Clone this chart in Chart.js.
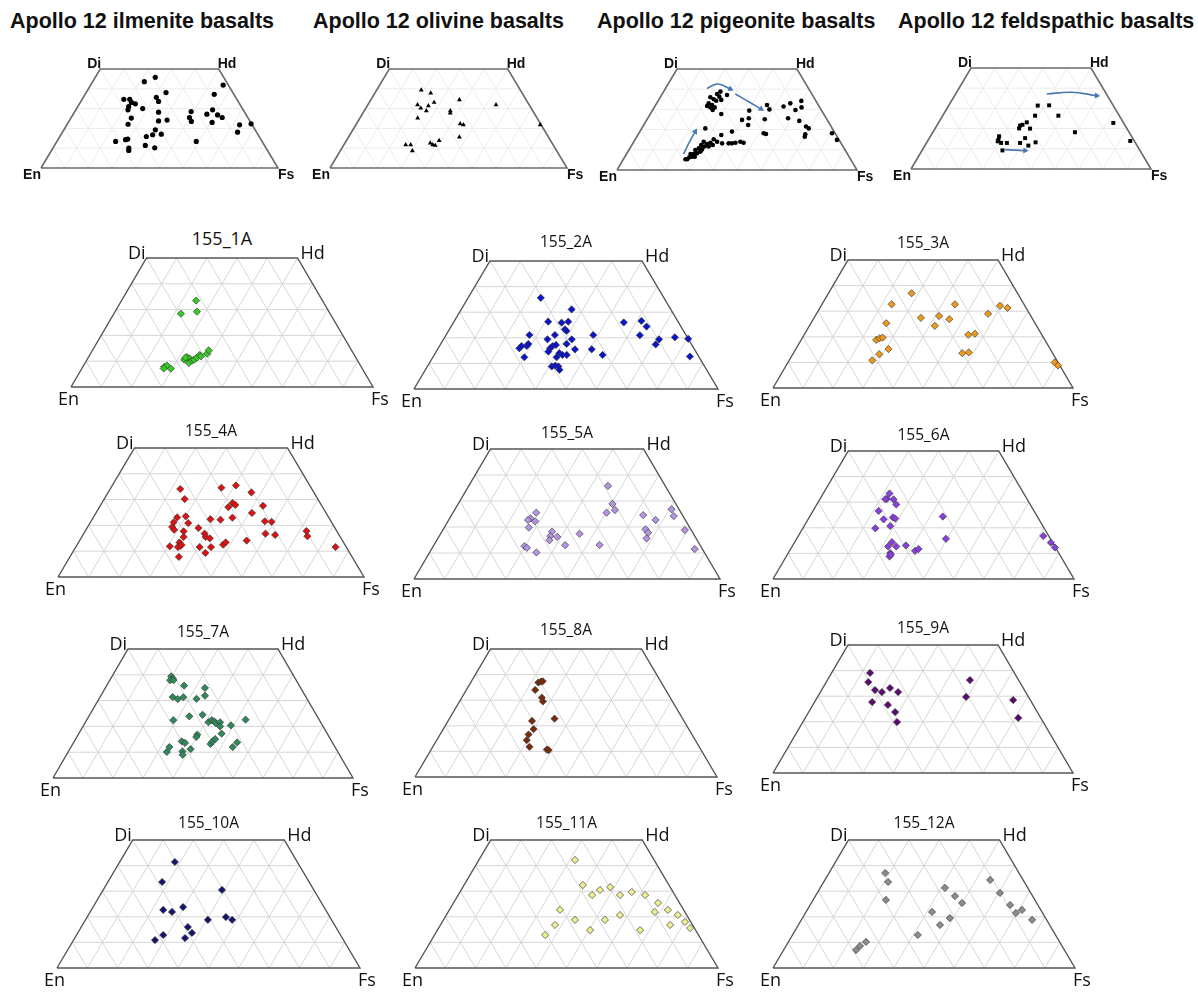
<!DOCTYPE html>
<html>
<head>
<meta charset="utf-8">
<title>Pyroxene quadrilaterals</title>
<script src="https://cdn.jsdelivr.net/npm/chart.js"></script>
<style>
  body { margin: 0; background: #fff; }
  #page { position: relative; width: 1198px; height: 992px; overflow: hidden; }
  canvas { position: absolute; }
  .lbl { position: absolute; line-height: 1; white-space: nowrap; color: #111; }
  .big { font-family: "Liberation Sans", Arial, sans-serif; font-weight: bold; font-size: 21.5px; }
  .vb { font-family: "Liberation Sans", Arial, sans-serif; font-weight: bold; font-size: 14px; }
  .vs { font-family: "Open Sans", sans-serif; font-size: 18px; }
  .ts { font-family: "Open Sans", sans-serif; font-size: 15.5px; }
</style>
</head>
<body>
<div id="page"></div>
<script>
// every point is [Wo, Fs] in mol %, En = 100 - Wo - Fs

let ilmenite = [[43.6,21.8],[45.8,25.3],[41.9,55.9],[38.1,33.7],[35.7,30.8],[33.6,32.8],[34.7,17.6],[34.7,20.1],
  [33.1,21.6],[32.4,23.6],[31.0,21.5],[29.4,22.0],[30.0,27.9],[28.2,35.5],[25.2,25.5],[23.8,37.7],[24.2,41.1],
  [22.1,25.7],[37.2,54.5],[28.5,49.1],[25.5,49.9],[23.5,51.7],[27.2,56.4],[29.4,57.7],[26.8,61.1],[25.5,63.7],
  [23.0,60.7],[21.8,72.9],[22.3,77.5],[18.1,73.9],[13.4,58.8],[19.3,38.6],[17.1,42.2],[16.8,38.7],[15.9,36.5],
  [13.4,24.8],[14.3,28.5],[14.6,29.3],[10.1,32.0],[8.9,32.6],[11.4,38.3],[10.2,42.9]];

let olivine = [[39.4,18.8],[37.8,23.6],[34.4,37.4],[31.9,54.1],[31.9,21.0],[30.2,23.2],[28.9,26.2],[31.4,25.8],
  [33.1,27.4],[28.9,36.3],[27.7,36.9],[25.2,24.4],[22.3,43.8],[21.8,45.4],[21.8,77.8],[15.6,46.8],[11.7,26.1],
  [11.7,28.2],[8.7,30.4],[12.6,36.0],[11.7,37.5],[11.4,38.7],[13.9,39.1]];

let pigeonite = [[38.8,23.7],[37.6,22.9],[36.3,24.5],[37.1,27.3],[36.0,20.9],[35.0,22.8],[34.3,24.2],[33.0,21.7],
  [32.2,23.5],[31.7,21.7],[31.0,23.4],[31.0,25.2],[29.7,25.0],[34.7,26.1],[27.7,29.6],[29.4,40.4],[32.2,46.4],
  [30.0,48.5],[31.4,53.7],[33.0,55.7],[34.2,59.7],[29.7,59.5],[31.0,61.4],[25.6,58.5],[24.3,63.8],[21.5,68.0],
  [20.6,69.6],[17.7,69.6],[16.5,70.0],[18.2,80.5],[14.9,84.2],[24.8,39.7],[22.3,43.5],[25.1,49.0],[18.2,52.0],
  [17.8,53.2],[25.6,42.1],[20.6,26.5],[17.3,34.8],[19.0,38.4],[14.0,44.4],[13.5,46.0],[13.5,42.6],[13.2,39.9],
  [13.2,41.3],[13.2,37.2],[14.0,34.7],[15.2,32.7],[13.5,32.2],[12.9,31.1],[14.0,29.1],[12.4,28.9],[11.6,30.7],
  [10.7,28.7],[9.9,27.7],[8.3,29.2],[7.9,28.0],[6.6,28.0],[6.3,27.0],[5.3,26.6],[5.3,25.9],[6.6,29.1],[7.9,26.7],
  [9.1,30.2],[10.2,30.3],[11.6,32.4],[12.4,33.7]];

let feldspathic = [[31.4,37.1],[31.5,41.8],[26.4,38.5],[26.4,48.2],[23.1,36.7],[21.5,34.7],[21.9,35.5],[20.1,35.0],
  [20.0,39.6],[18.2,59.2],[22.8,72.9],[13.9,84.4],[16.2,28.6],[14.5,29.2],[13.7,29.3],[12.9,31.1],[12.9,33.5],
  [9.2,33.5],[12.9,39.0],[15.3,39.9],[11.6,43.1],[13.2,45.3]];

// trend arrows drawn on the pigeonite and feldspathic panels, [Wo, Fs]
let pigeoniteArrows = [
  [[7.9,23.8],[13.2,23.3],[19.0,23.1]],
  [[40.4,17.3],[42.6,20.8],[40.1,27.2]],
  [[37.6,30.5],[33.8,38.0],[30.2,44.9]]
];
let feldspathicArrows = [
  [[37.1,38.0],[38.0,47.9],[36.3,59.2]],
  [[9.6,34.4],[9.1,43.0]]
];

let s155_1A = [[33.5,24.7],[28.4,22.2],[29.2,27.1],[7.8,27.0],[8.3,27.6],[7.1,29.5],[7.2,27.1],[10.6,32.2],
  [11.6,32.6],[11.0,33.8],[9.3,34.4],[10.3,35.0],[10.6,35.5],[11.4,36.0],[12.4,36.4],[11.9,37.1],[12.9,38.6],
  [14.2,38.5],[11.4,32.2]];

let s155_2A = [[35.6,23.9],[31.1,36.3],[26.3,31.0],[25.9,35.6],[26.3,37.6],[23.3,38.0],[22.7,38.8],[21.1,27.4],
  [21.1,35.8],[19.4,34.2],[19.4,42.2],[21.1,48.4],[15.9,26.7],[16.8,27.0],[16.8,28.7],[17.6,28.8],[12.4,30.1],
  [15.9,36.8],[16.8,37.2],[17.2,38.1],[14.6,36.9],[17.6,41.4],[15.5,45.2],[14.0,40.8],[13.3,42.2],[13.3,43.6],
  [12.4,40.7],[8.8,40.9],[9.1,41.9],[8.8,43.1],[7.5,44.1],[15.5,50.7],[13.3,55.4],[26.0,56.0],[26.6,61.5],
  [24.4,64.3],[21.0,63.8],[19.4,70.9],[17.4,70.8],[20.2,75.7],[19.6,80.4],[12.7,84.4]];

let s155_3A = [[37.0,27.7],[32.7,23.2],[32.7,44.3],[32.1,59.6],[31.3,62.5],[29.0,57.2],[27.4,35.6],[28.1,41.3],
  [26.9,45.3],[24.3,41.8],[25.3,25.1],[18.8,25.0],[19.4,25.8],[19.7,26.7],[20.8,54.7],[21.2,56.7],[15.2,30.9],
  [13.2,28.8],[10.8,27.7],[13.6,56.3],[13.9,58.3],[10.0,88.9],[8.8,90.6]];

let s155_4A = [[34.1,22.9],[30.2,26.3],[34.6,36.1],[35.5,40.4],[32.8,46.8],[28.7,42.7],[27.9,44.0],[27.1,42.1],
  [27.6,53.2],[24.8,51.0],[23.0,45.5],[21.6,56.8],[21.4,59.1],[16.8,59.4],[16.3,62.8],[17.8,72.3],[15.8,73.6],
  [11.6,84.9],[14.1,54.6],[22.2,42.0],[22.4,38.6],[19.0,36.4],[16.8,39.5],[15.5,40.5],[15.0,42.1],[11.6,44.2],
  [11.6,40.5],[9.3,43.5],[12.5,47.7],[13.4,48.1],[23.1,27.4],[23.5,30.0],[20.9,32.1],[21.2,27.2],[19.4,27.6],
  [18.3,28.8],[17.7,32.2],[15.5,33.3],[13.4,33.0],[12.1,33.9],[11.6,33.4],[12.4,34.2],[11.9,30.6],[7.8,35.6]];

let s155_5A = [[35.8,45.5],[28.9,50.4],[26.5,52.4],[25.5,50.2],[26.8,70.8],[24.2,72.8],[24.6,62.6],[22.7,67.6],
  [19.1,66.1],[17.8,67.6],[15.6,68.2],[18.8,79.1],[11.5,86.0],[25.5,27.2],[23.3,26.4],[22.7,25.9],[22.2,28.5],
  [19.8,27.6],[18.2,36.0],[16.5,36.3],[16.2,38.7],[14.9,36.8],[17.4,45.4],[13.0,42.9],[13.1,54.1],[12.6,29.8],
  [12.0,30.9],[10.2,34.9]];

let s155_6A = [[33.4,22.0],[31.3,22.2],[31.2,21.7],[31.1,24.5],[29.1,26.4],[26.6,21.8],[23.3,25.1],[24.1,27.8],
  [23.6,28.8],[20.7,28.6],[19.8,24.1],[24.4,44.2],[15.7,49.6],[14.4,32.3],[12.7,31.9],[12.7,34.6],[13.1,37.6],
  [10.1,33.9],[8.8,34.3],[9.5,34.4],[11.0,41.7],[11.7,42.5],[16.8,81.4],[14.2,85.2],[12.3,87.5]];

let s155_7A = [[39.4,19.7],[38.5,20.7],[37.9,20.1],[37.9,21.2],[35.8,25.8],[34.9,33.2],[31.9,34.7],[31.4,24.2],
  [30.6,26.3],[31.3,27.8],[30.7,32.5],[22.4,28.9],[23.9,33.5],[24.5,37.6],[21.6,41.0],[22.4,41.7],[22.0,42.7],
  [21.3,43.6],[21.6,44.9],[20.0,45.7],[20.4,49.1],[22.6,52.9],[17.2,47.6],[16.8,39.7],[15.9,39.8],[14.2,35.8],
  [13.6,37.2],[12.0,32.8],[10.1,32.9],[10.3,38.0],[9.0,38.7],[11.2,40.3],[13.2,45.9],[14.2,46.1],[15.1,46.5],
  [12.0,53.9],[13.8,54.5]];

let s155_8A = [[36.9,22.4],[37.3,23.1],[37.4,23.6],[34.0,22.8],[31.0,26.5],[29.5,27.6],[22.8,34.8],[21.9,27.8],
  [18.7,29.9],[16.6,29.3],[14.4,29.8],[11.8,32.0],[10.7,38.3],[10.5,39.0]];

let s155_9A = [[39.1,12.8],[35.5,14.0],[32.4,17.8],[31.6,20.5],[33.2,22.4],[31.6,25.9],[27.7,19.2],[26.6,25.0],
  [23.8,28.8],[19.9,31.4],[29.7,49.5],[36.3,47.5],[28.5,65.8],[21.5,71.0]];

let s155_10A = [[41.4,18.2],[33.6,17.9],[22.7,23.7],[21.9,27.0],[23.8,29.7],[10.9,26.9],[12.9,28.6],[16.0,35.2],
  [13.7,37.7],[18.8,40.4],[30.5,39.2],[19.9,45.8],[18.8,48.4],[11.7,36.4]];

let s155_11A = [[42.2,31.7],[32.4,39.2],[28.5,44.2],[30.5,45.8],[31.6,48.6],[28.5,53.4],[29.7,56.7],[28.5,61.7],
  [25.4,67.5],[22.7,72.1],[20.7,76.4],[18.0,80.1],[15.6,83.0],[22.7,36.5],[16.8,37.8],[12.9,36.5],[18.8,43.4],
  [14.8,50.4],[18.8,53.3],[20.7,57.3],[14.8,66.9],[21.9,68.2],[16.8,75.8]];

let s155_12A = [[37.1,18.6],[33.6,21.3],[26.6,24.1],[31.3,41.3],[28.1,46.2],[25.4,49.9],[19.5,48.8],[21.9,41.7],
  [16.8,46.9],[12.9,41.5],[34.4,54.7],[29.3,60.5],[24.6,66.2],[21.5,69.7],[22.7,71.1],[18.8,76.4],[8.6,24.5],
  [7.0,24.0],[10.2,25.7]];

// panel placement: page x of En and Fs corners, page y of top and base edges
let panels = [
  { title: 'Apollo 12 ilmenite basalts', pts: ilmenite, en: 41, fs: 278, top: 69, base: 168, kind: 'top', tx: 10,
    marker: 'circle', r: 2.6, color: '#000' },
  { title: 'Apollo 12 olivine basalts', pts: olivine, en: 330, fs: 567, top: 69, base: 168, kind: 'top', tx: 313,
    marker: 'triangle', r: 2.8, color: '#000' },
  { title: 'Apollo 12 pigeonite basalts', pts: pigeonite, en: 617, fs: 857, top: 69, base: 170, kind: 'top', tx: 597,
    marker: 'circle', r: 2.3, color: '#000', arrows: pigeoniteArrows, rot: [30, 115, 125] },
  { title: 'Apollo 12 feldspathic basalts', pts: feldspathic, en: 911, fs: 1151, top: 68, base: 169, kind: 'top', tx: 898,
    marker: 'rect', r: 2.8, color: '#000', arrows: feldspathicArrows, rot: [95, 92] },
  { title: '155_1A', pts: s155_1A, en: 71, fs: 373, top: 258, base: 387, color: '#33cc22', tsize: 18, tdy: 20 },
  { title: '155_2A', pts: s155_2A, en: 414, fs: 718, top: 261, base: 389, color: '#0a14c8', tdy: 19 },
  { title: '155_3A', pts: s155_3A, en: 773, fs: 1073, top: 260, base: 388, color: '#f09a1a', tdy: 17 },
  { title: '155_4A', pts: s155_4A, en: 58, fs: 364, top: 448, base: 577, color: '#dd1111', tdy: 17 },
  { title: '155_5A', pts: s155_5A, en: 414, fs: 720, top: 449, base: 579, color: '#b594e6', tdy: 16 },
  { title: '155_6A', pts: s155_6A, en: 773, fs: 1074, top: 451, base: 579, color: '#8a3ee0', tdy: 16 },
  { title: '155_7A', pts: s155_7A, en: 53, fs: 353, top: 649, base: 778, color: '#2f8a5a', tdy: 17 },
  { title: '155_8A', pts: s155_8A, en: 415, fs: 717, top: 649, base: 777, color: '#7a2a0c', tdy: 19 },
  { title: '155_9A', pts: s155_9A, en: 773, fs: 1073, top: 645, base: 773, color: '#5c0a70', tdy: 17 },
  { title: '155_10A', pts: s155_10A, en: 57, fs: 360, top: 840, base: 968, color: '#14146e', tdy: 17 },
  { title: '155_11A', pts: s155_11A, en: 415, fs: 718, top: 840, base: 968, color: '#eeee90', tdy: 17 },
  { title: '155_12A', pts: s155_12A, en: 773, fs: 1075, top: 840, base: 968, color: '#8c8c8c', tdy: 17 }
];

const page = document.getElementById('page');

function xy(p) { return { x: p[1] + p[0] / 2, y: p[0] }; }

function lineSet(pts, color, width) {
  return { type: 'line', data: pts.map(xy), borderColor: color, borderWidth: width,
    pointRadius: 0, fill: false, showLine: true, clip: false, tension: 0 };
}

function frameSets(gridColor, outColor, outWidth) {
  const sets = [];
  for (let w = 10; w <= 40; w += 10) sets.push(lineSet([[w, 0], [w, 100 - w]], gridColor, 1));
  for (let k = 10; k <= 90; k += 10) {
    const m = Math.min(50, 100 - k);
    sets.push(lineSet([[0, k], [m, k]], gridColor, 1));
    sets.push(lineSet([[0, 100 - k], [m, 100 - k - m]], gridColor, 1));
  }
  sets.unshift(lineSet([[0, 0], [0, 100], [50, 50], [50, 0], [0, 0]], outColor, outWidth));
  return sets;
}

function addLabel(text, cls, x, y, tx, ty, size) {
  const d = document.createElement('div');
  d.className = 'lbl ' + cls;
  d.textContent = text;
  d.style.left = x + 'px';
  d.style.top = y + 'px';
  if (size) d.style.fontSize = size + 'px';
  d.style.transform = 'translate(' + tx + '%,' + ty + '%)';
  page.appendChild(d);
}

panels.forEach(p => {
  const top = p.kind === 'top';
  const pad = 8;
  const w = p.fs - p.en, h = p.base - p.top;
  const diX = p.en + w / 4, hdX = p.fs - w / 4;
  const c = document.createElement('canvas');
  c.width = w + 2 * pad; c.height = h + 2 * pad;
  c.style.left = (p.en - pad) + 'px';
  c.style.top = (p.top - pad) + 'px';
  page.appendChild(c);

  const datasets = [];
  if (p.arrows) {
    p.arrows.forEach((a, i) => {
      const s = lineSet(a, '#4a78b0', 1.6);
      s.tension = 0.4;
      s.pointStyle = 'triangle';
      s.pointRadius = ctx => ctx.dataIndex === a.length - 1 ? 3.5 : 0;
      s.pointBackgroundColor = '#4a78b0';
      s.pointBorderWidth = 0;
      s.rotation = p.rot[i];
      datasets.push(s);
    });
  }
  datasets.push({
    type: 'scatter', data: p.pts.map(xy), clip: false,
    pointStyle: top ? p.marker : 'rectRot',
    pointRadius: top ? p.r : 3.6,
    backgroundColor: p.color,
    borderColor: top ? p.color : '#3a3a3a',
    borderWidth: top ? 0 : 0.7
  });
  frameSets(top ? '#ececec' : '#d6d6d6', top ? '#6a6a6a' : '#555', top ? 1.6 : 1.4).forEach(s => datasets.push(s));

  new Chart(c, {
    data: { datasets },
    options: {
      responsive: false, animation: false, events: [],
      layout: { padding: pad },
      plugins: { legend: { display: false }, tooltip: { enabled: false } },
      scales: {
        x: { type: 'linear', min: 0, max: 100, display: false },
        y: { type: 'linear', min: 0, max: 50, display: false }
      }
    }
  });

  if (top) {
    addLabel(p.title, 'big', p.tx, 11, 0, 0);
    addLabel('Di', 'vb', diX + 1, p.top + 1, -100, -100);
    addLabel('Hd', 'vb', hdX - 1, p.top + 1, 0, -100);
    addLabel('En', 'vb', p.en, p.base - 1, -100, 0);
    addLabel('Fs', 'vb', p.fs, p.base - 1, 0, 0);
  } else {
    addLabel(p.title, 'ts', (p.en + p.fs) / 2, p.top - p.tdy, -50, -50, p.tsize);
    addLabel('Di', 'vs', diX - 1, p.top + 3, -100, -100);
    addLabel('Hd', 'vs', hdX + 3, p.top + 3, 0, -100);
    addLabel('En', 'vs', p.en - 13, p.base + 2, 0, 0);
    addLabel('Fs', 'vs', p.fs - 2, p.base + 2, 0, 0);
  }
});
</script>
</body>
</html>
